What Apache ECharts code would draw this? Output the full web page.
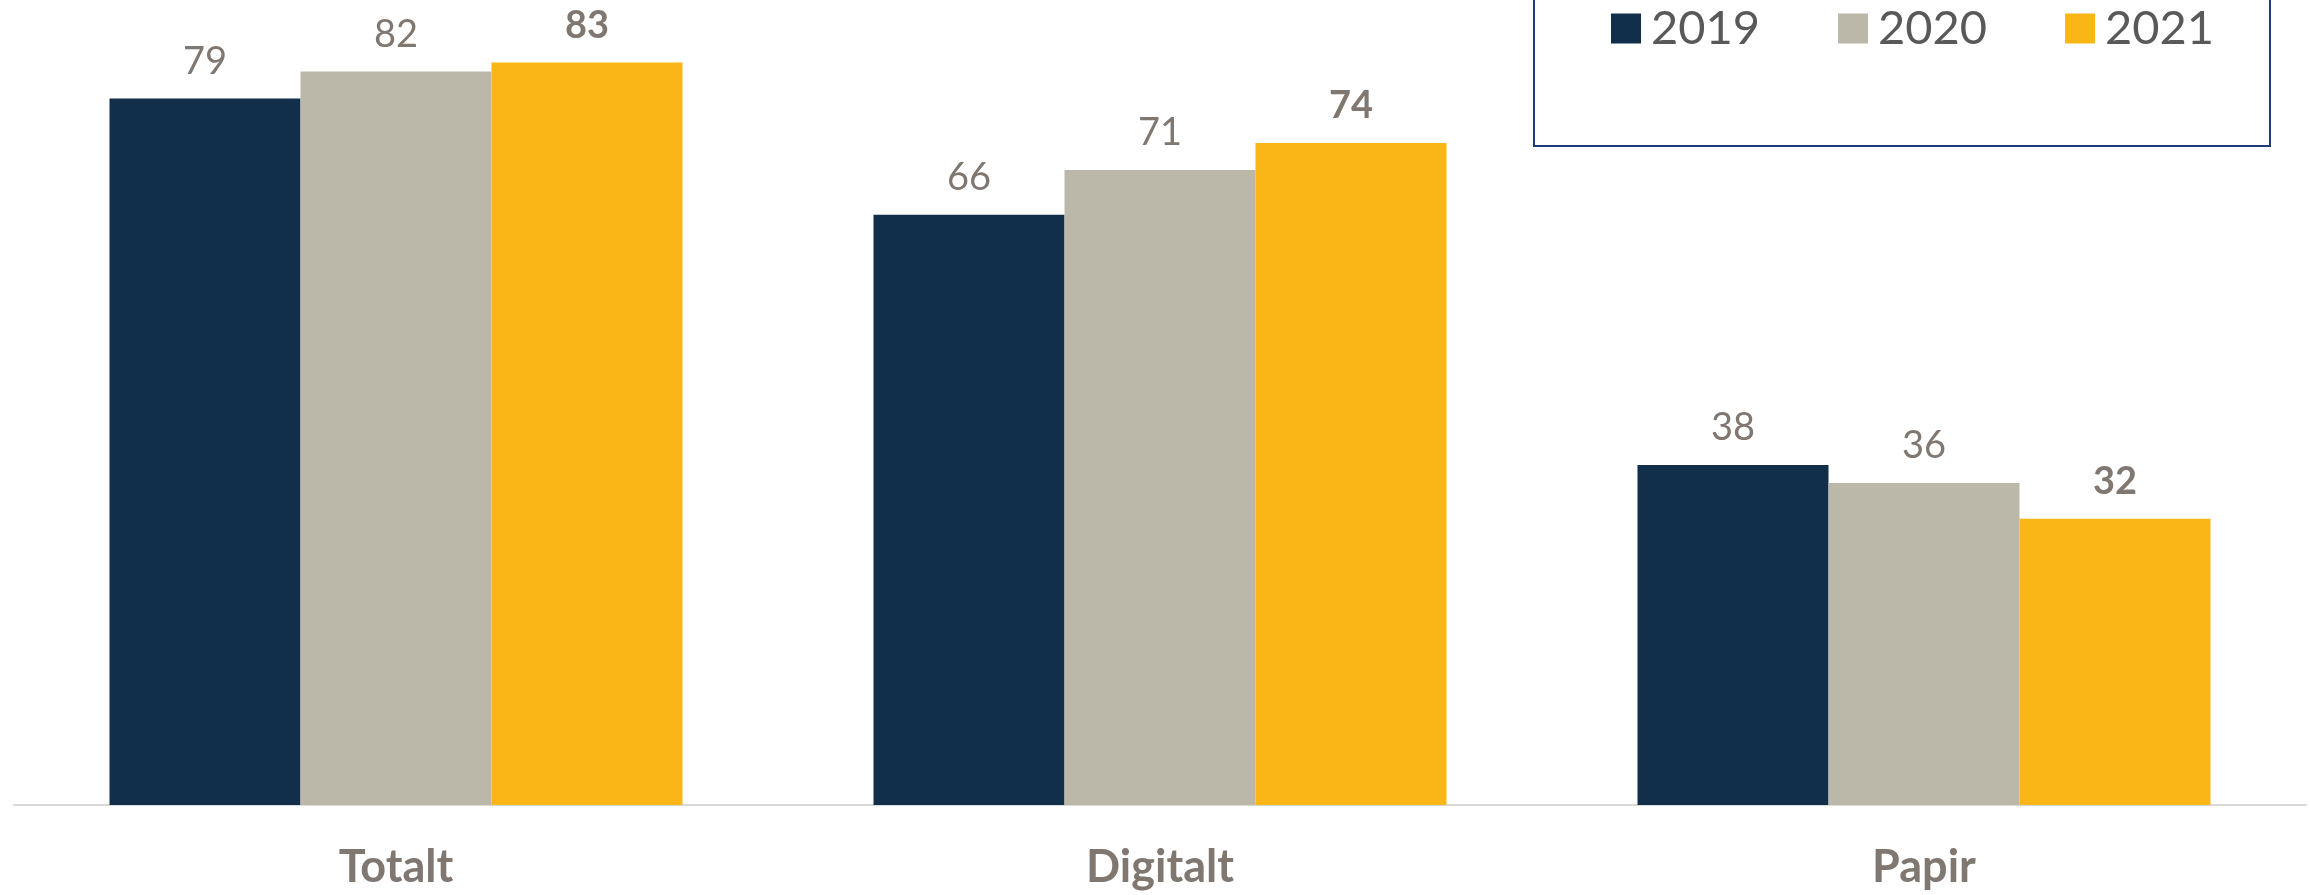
<!DOCTYPE html>
<html><head><meta charset="utf-8">
<script src="https://cdn.jsdelivr.net/npm/echarts@6/dist/echarts.min.js"></script>
<style>html,body{margin:0;padding:0;background:#fff}#c{width:2310px;height:895px}</style>
</head><body><div id="c"></div>
<script>
const categories = ['Totalt', 'Digitalt', 'Papir'];
const seriesNames = ['2019', '2020', '2021'];
const values2019 = [79, 66, 38];
const values2020 = [82, 71, 36];
const values2021 = [83, 74, 32];
const colors = ['#112e4a', '#bbb8a9', '#f9b616'];

const chart = echarts.init(document.getElementById('c'));
const font = 'Lato';
function mk(name, data, color, bold) {
  return {
    name, type: 'bar', data, barGap: '0%', barCategoryGap: '25%',
    itemStyle: { color },
    label: { show: true, position: 'top', distance: 18, color: '#7f7770',
      fontFamily: font, fontSize: 38, fontWeight: bold ? 'bold' : 'normal' }
  };
}
chart.setOption({
  animation: false,
  grid: { left: 14, right: 4, top: 0, bottom: 90, containLabel: false },
  legend: {
    left: 1606, top: 0, itemWidth: 30, itemHeight: 30, itemGap: 78,
    icon: 'rect',
    textStyle: { fontFamily: font, fontSize: 47, color: '#595959', padding: [0, 0, 0, 5] },
    data: seriesNames
  },
  graphic: [{ type: 'rect', shape: { x: 1534, y: -10, width: 736, height: 156 },
    style: { fill: 'none', stroke: '#1f3a78', lineWidth: 2 }, z: 0 }],
  xAxis: {
    type: 'category', data: categories,
    axisLine: { lineStyle: { color: '#d9d9d9', width: 2 } },
    axisTick: { show: false },
    axisLabel: { margin: 40, fontFamily: font, fontSize: 45, fontWeight: 'bold', color: '#7f7770' }
  },
  yAxis: { type: 'value', min: 0, max: 90, show: false, splitLine: { show: false } },
  series: [
    mk(seriesNames[0], values2019, colors[0], false),
    mk(seriesNames[1], values2020, colors[1], false),
    mk(seriesNames[2], values2021, colors[2], true)
  ]
});
</script></body></html>
